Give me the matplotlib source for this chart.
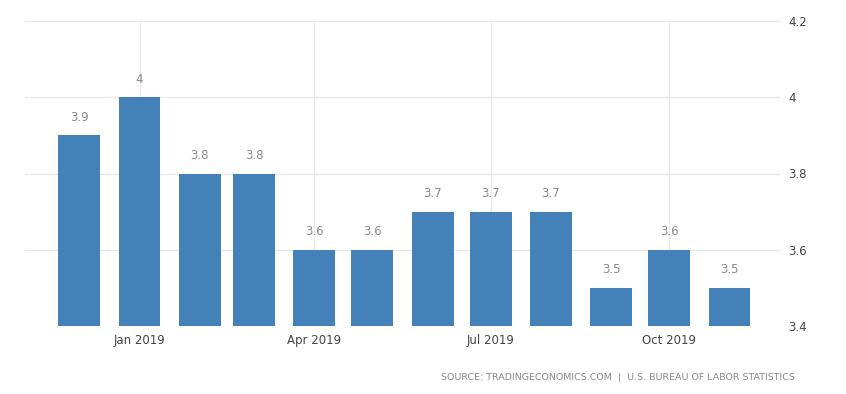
import matplotlib
matplotlib.use("Agg")
import matplotlib.pyplot as plt
import matplotlib.dates as mdates
import numpy as np
import datetime as dt

months = ["2018-12", "2019-01", "2019-02", "2019-03", "2019-04", "2019-05",
          "2019-06", "2019-07", "2019-08", "2019-09", "2019-10", "2019-11"]
values = [3.9, 4.0, 3.8, 3.8, 3.6, 3.6, 3.7, 3.7, 3.7, 3.5, 3.6, 3.5]
value_labels = ["3.9", "4", "3.8", "3.8", "3.6", "3.6", "3.7", "3.7", "3.7", "3.5", "3.6", "3.5"]
y_ticks = [3.4, 3.6, 3.8, 4.0, 4.2]
y_tick_labels = ["3.4", "3.6", "3.8", "4", "4.2"]
x_tick_dates = ["2019-01", "2019-04", "2019-07", "2019-10"]
x_tick_labels = ["Jan 2019", "Apr 2019", "Jul 2019", "Oct 2019"]
source = "SOURCE: TRADINGECONOMICS.COM  |  U.S. BUREAU OF LABOR STATISTICS"

def to_date(s):
    y, m = s.split("-")
    return dt.datetime(int(y), int(m), 1)

dates = [to_date(m) for m in months]
xnum = mdates.date2num(dates)

fig = plt.figure(figsize=(8.46, 3.94), dpi=100)
ax = fig.add_axes([25/846, 68/394, 755/846, 305/394])

base = 3.4
ax.bar(xnum, np.array(values) - base, bottom=base, width=21.6,
       color="#4481b8", zorder=3)

for x, v, lab in zip(xnum, values, value_labels):
    ax.text(x, v + 0.03, lab, ha="center", va="bottom", fontsize=8.5,
            color="#8a8a8a", zorder=4)

ax.set_ylim(3.4, 4.2)
ax.set_xlim(mdates.date2num(dt.datetime(2018, 11, 3)),
            mdates.date2num(dt.datetime(2019, 11, 27)))

ax.yaxis.tick_right()
ax.set_yticks(y_ticks)
ax.set_yticklabels(y_tick_labels)
xt = mdates.date2num([to_date(d) for d in x_tick_dates])
ax.set_xticks(xt)
ax.set_xticklabels(x_tick_labels)
ax.tick_params(axis="both", length=0, labelsize=8.5, colors="#444444")
ax.tick_params(axis="y", pad=6)
ax.tick_params(axis="x", pad=6)

ax.grid(True, color="#e8e8e8", linewidth=0.9, zorder=0)
for s in ax.spines.values():
    s.set_visible(False)

fig.text(795/846, 1 - 377/394, source, ha="right", va="center",
         fontsize=6.8, color="#888888")

fig.savefig("out.png", dpi=100, facecolor="white")
